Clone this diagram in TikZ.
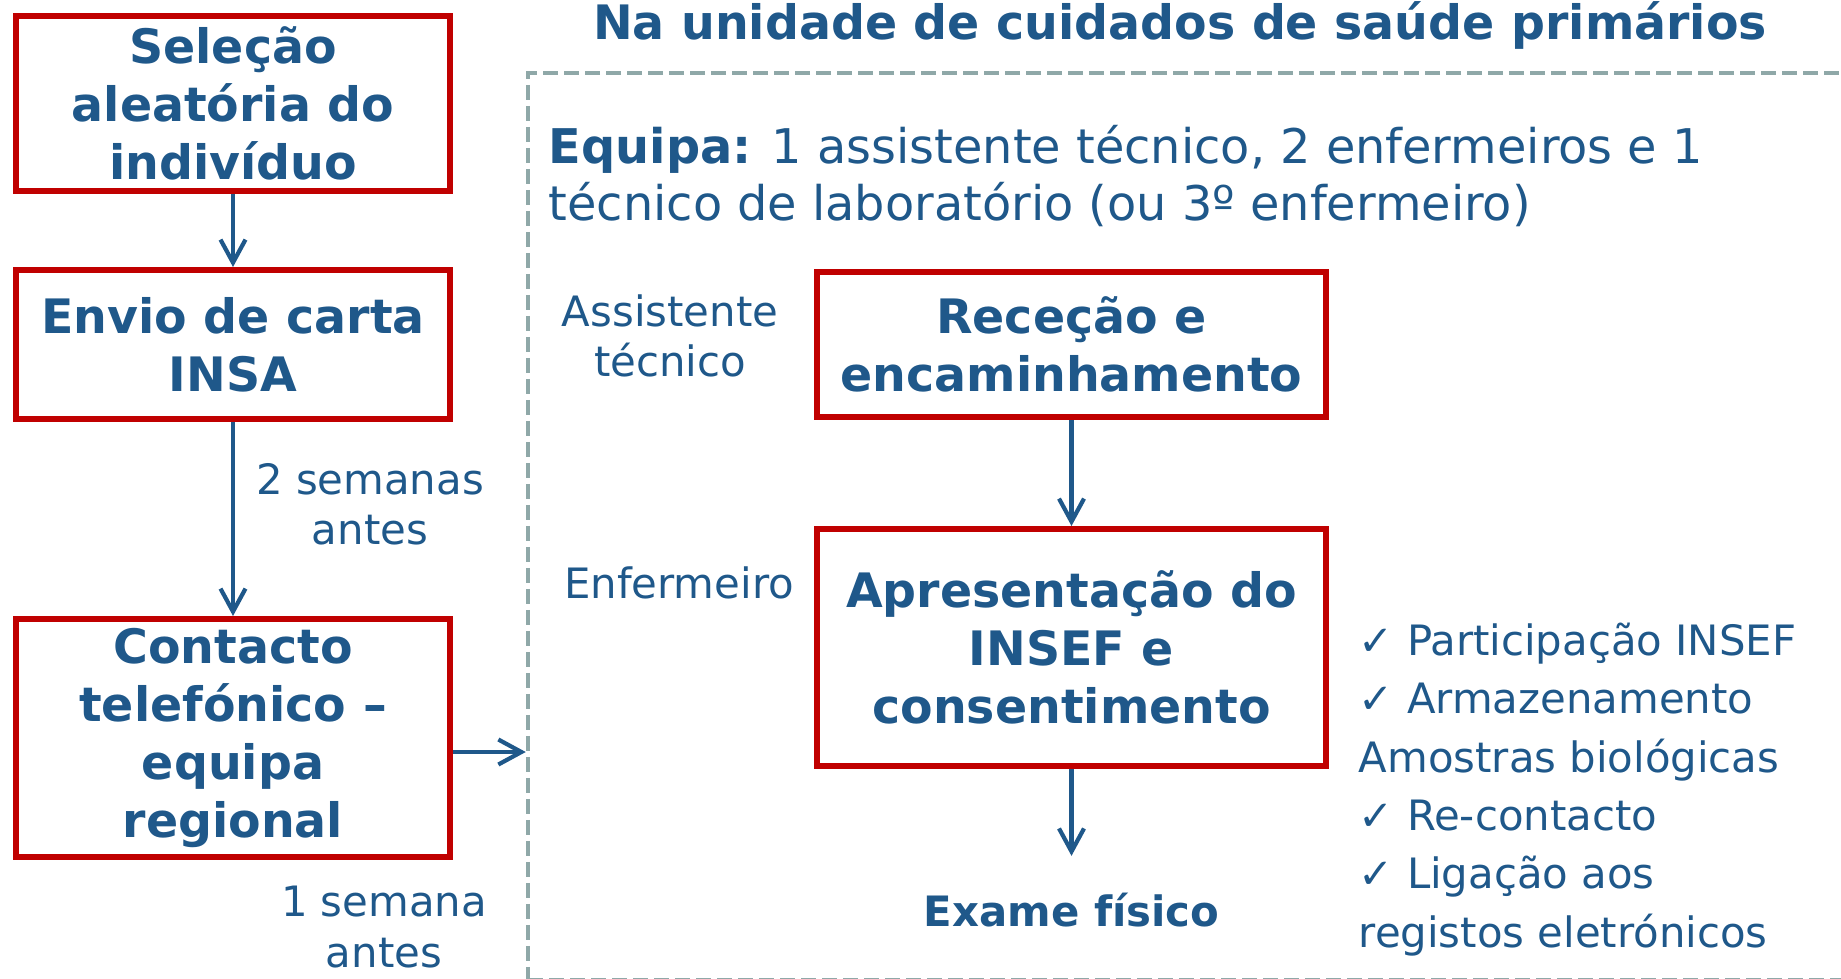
\documentclass[tikz,border=0pt]{standalone}
\usepackage{fontspec}
\setmainfont{DejaVu Sans}
\usetikzlibrary{arrows.meta}

\definecolor{azul}{RGB}{31,88,138}
\definecolor{vermelho}{RGB}{192,0,0}
\definecolor{cinza}{RGB}{143,168,168}
\newcommand{\letraCaixa}{\fontsize{13.5pt}{16.5pt}\selectfont\bfseries}
\newcommand{\letraTexto}{\fontsize{13.6pt}{16.2pt}\selectfont}
\newcommand{\letraNota}{\fontsize{11.9pt}{14.3pt}\selectfont}

\begin{document}
\begin{tikzpicture}[x=0.1mm, y=-0.1mm,
	caixa/.style={draw=vermelho, line width=0.6mm, text=azul, align=center, inner sep=0pt, font=\letraCaixa},
	nota/.style={text=azul, align=center, inner sep=0pt, font=\letraNota},
	seta/.style={draw=azul, line width=0.42mm, -{Straight Barb[length=2.3mm, width=2.5mm]}}]
	\useasboundingbox (0,0) rectangle (1841,978);

	% moldura da unidade
	\node[draw=cinza, line width=0.45mm, dash pattern=on 1.5mm off 0.6mm, minimum width=131.5mm, minimum height=90.7mm, inner sep=0pt] (unidade) at (1185.5,526.5) {};
	\node[text=azul, font=\letraCaixa, anchor=base, inner sep=0pt] (titulo) at (1180,40) {Na unidade de cuidados de saúde primários};
	\node[text=azul, font=\letraTexto, align=left, anchor=west, inner sep=0pt] (equipa) at (548,176) {\textbf{Equipa:} 1 assistente técnico, 2 enfermeiros e 1\\técnico de laboratório (ou 3º enfermeiro)};

	% caixas da esquerda
	\node[caixa, minimum width=43.4mm, minimum height=17.5mm] (selecao) at (233,103.5) {Seleção\\aleatória do\\indivíduo};
	\node[caixa, minimum width=43.4mm, minimum height=14.9mm] (envio) at (233,344.5) {Envio de carta\\INSA};
	\node[caixa, minimum width=43.4mm, minimum height=23.8mm] (contacto) at (233,738) {Contacto\\telefónico –\\equipa\\regional};
	\node[nota] (duas) at (370,504) {2 semanas\\antes};
	\node[nota] (uma) at (384,927) {1 semana\\antes};

	% caixas da unidade
	\node[caixa, minimum width=50.9mm, minimum height=14.5mm] (rececao) at (1071.5,344.5) {Receção e\\encaminhamento};
	\node[caixa, minimum width=50.9mm, minimum height=23.7mm] (apresentacao) at (1071.5,647.5) {Apresentação do\\INSEF e\\consentimento};
	\node[nota, font=\letraNota\bfseries, anchor=base] (exame) at (1071.5,926) {Exame físico};
	\node[nota] (assistente) at (670,336) {Assistente\\técnico};
	\node[nota, anchor=base] (enfermeiro) at (679,598) {Enfermeiro};
	\node[nota, align=left, anchor=west, font=\fontsize{11.9pt}{16.6pt}\selectfont] (lista) at (1358,789.5) {✓ Participação INSEF\\✓ Armazenamento\\Amostras biológicas\\✓ Re-contacto\\✓ Ligação aos\\registos eletrónicos};

	% setas
	\coordinate (saida) at ([yshift=-1.4mm]contacto.east);
	\draw[seta] (selecao) -- (envio);
	\draw[seta] (envio) -- (contacto);
	\draw[seta] (saida) -- (saida -| unidade.west);
	\draw[seta] (rececao) -- (apresentacao);
	\draw[seta, shorten >=3.6mm] (apresentacao) -- (exame);
\end{tikzpicture}
\end{document}
